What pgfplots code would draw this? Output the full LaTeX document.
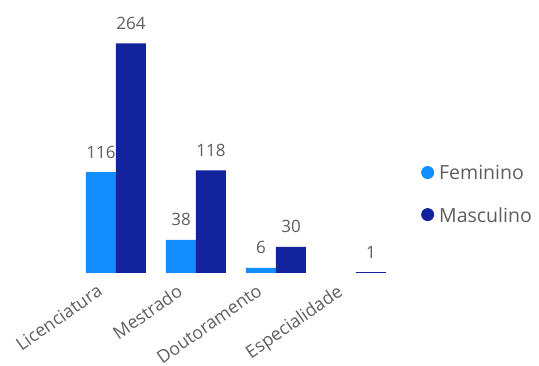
\documentclass[border=0pt]{standalone}
\usepackage{fontspec}
\setmainfont{Open Sans}
\usepackage{pgfplots}
\pgfplotsset{compat=1.18}
\definecolor{fem}{HTML}{118DFF}
\definecolor{masc}{HTML}{12239E}
\definecolor{txt}{HTML}{605E5C}
\begin{document}
\begin{tikzpicture}[x=1pt,y=1pt]
\path[use as bounding box] (0,0) rectangle (539,366);
\begin{axis}[
  at={(76pt,93pt)}, anchor=south west,
  scale only axis, width=320pt, height=261pt,
  xmin=-0.5, xmax=3.5, ymin=0, ymax=300,
  axis x line=bottom,
  hide y axis,
  x axis line style={draw=none, -},
  /pgf/number format/assume math mode=true,
  ybar=0pt, bar width=30pt,
  xtick={0,1,2,3},
  xticklabels={Licenciatura,Mestrado,Doutoramento,Especialidade},
  xtick style={draw=none},
  xticklabel style={xshift=-20pt, yshift=-6pt, rotate=35, anchor=north east, inner sep=0pt,
    font=\fontsize{17.8}{18}\selectfont, text=txt},
  nodes near coords,
  every node near coord/.append style={font=\fontsize{17}{18}\selectfont, text=txt, anchor=base, inner sep=0pt, yshift=14pt},
  legend style={at={(1.078,0.30)}, anchor=west, draw=none, fill=none,
    font=\fontsize{19.5}{20}\selectfont, text=txt, row sep=22pt, column sep=3pt,
    legend cell align=left, inner sep=0pt},
  legend image code/.code={\fill (0.3em,0.1em) circle (6.5pt);},
]
\addplot[fill=fem, draw=none] coordinates {(0,116) (1,38) (2,6)};
\addplot[fill=masc, draw=none] coordinates {(0,264) (1,118) (2,30) (3,1)};
\legend{Feminino,Masculino}
\end{axis}
\end{tikzpicture}
\end{document}
